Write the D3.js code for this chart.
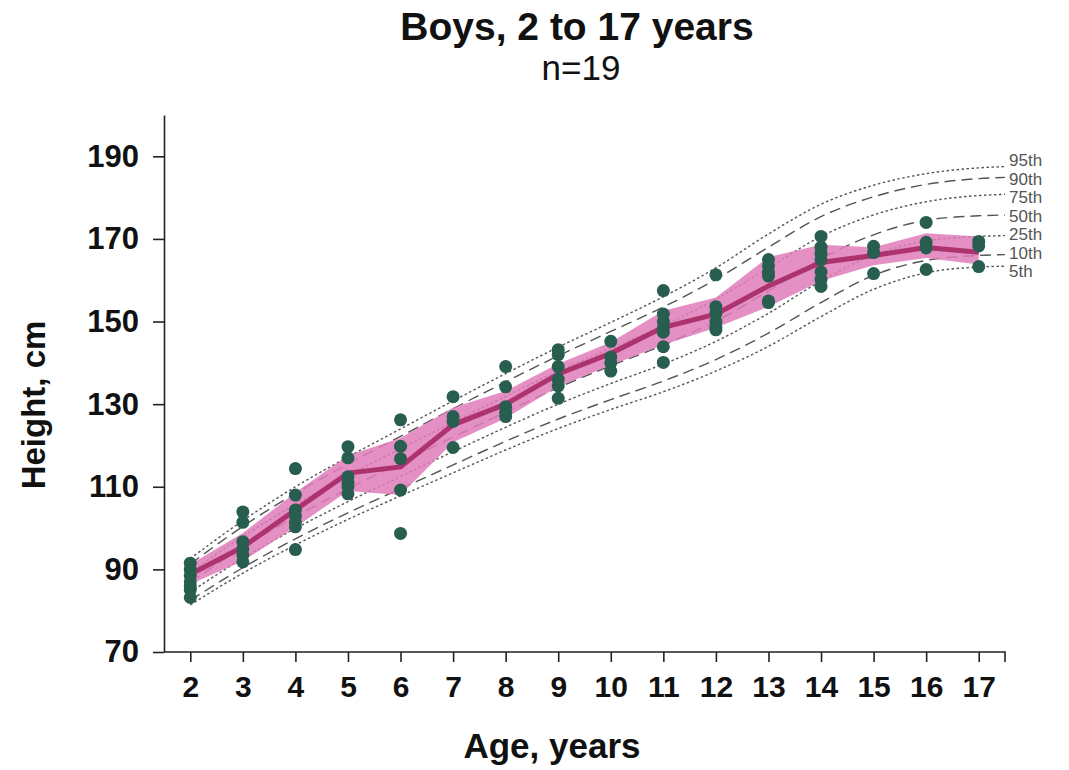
<!DOCTYPE html>
<html>
<head>
<meta charset="utf-8">
<script src="https://cdn.jsdelivr.net/npm/d3@7"></script>
<style>
  body { margin: 0; background: #fff; }
  svg text { font-family: "Liberation Sans", Arial, sans-serif; }
</style>
</head>
<body>
<svg id="chart" width="1069" height="770"></svg>
<script>
// reference curve ages (last point runs past 17 to the label column)
var refAges = [2, 3, 4, 5, 6, 7, 8, 9, 10, 11, 12, 13, 14, 15, 16, 17, 17.5]
var p95 = [92.6, 101.8, 110.0, 117.2, 124.0, 130.8, 137.4, 143.8, 149.8, 156.0, 163.0, 171.2, 178.4, 183.0, 185.8, 187.2, 187.5]
var p90 = [91.3, 100.4, 108.4, 115.5, 122.2, 128.9, 135.4, 141.7, 147.6, 153.5, 160.2, 168.0, 175.4, 180.2, 183.2, 184.6, 184.9]
var p75 = [89.3, 98.0, 105.7, 112.7, 119.2, 125.6, 131.9, 138.0, 143.5, 149.0, 155.4, 163.0, 170.6, 175.8, 179.0, 180.5, 180.8]
var p50 = [86.9, 95.3, 102.8, 109.5, 115.8, 122.0, 128.1, 134.0, 139.3, 144.3, 150.1, 157.4, 165.2, 171.0, 174.5, 175.6, 175.8]
var p25 = [84.5, 92.7, 99.9, 106.4, 112.5, 118.5, 124.4, 130.0, 135.0, 139.7, 145.2, 152.0, 159.8, 166.1, 169.5, 170.6, 170.8]
var p10 = [82.5, 90.4, 97.4, 103.7, 109.5, 115.3, 121.0, 126.4, 131.1, 135.6, 140.8, 147.2, 154.6, 161.2, 164.8, 166.0, 166.2]
var p5  = [81.4, 89.1, 95.9, 102.1, 107.8, 113.4, 118.9, 124.1, 128.7, 133.0, 138.0, 144.0, 151.2, 157.8, 161.8, 163.2, 163.4]

var pctNames = ["95th", "90th", "75th", "50th", "25th", "10th", "5th"]
var pctStyle = ["dot", "dash", "dot", "dash", "dot", "dash", "dot"]

// measured children, by age
var ages = [2, 3, 4, 5, 6, 7, 8, 9, 10, 11, 12, 13, 14, 15, 16, 17]
var heights = [
  [91.5, 90, 88.5, 87, 86, 85, 83.2],
  [103.9, 101.4, 96.7, 95, 93.5, 91.8],
  [114.4, 108, 104.4, 103, 101.5, 100.3, 94.8],
  [119.7, 117, 112.4, 111, 110, 108.3],
  [126.2, 119.8, 116.8, 109.2, 98.7],
  [131.8, 127, 125.8, 119.5],
  [139.1, 134.2, 129.4, 128, 127],
  [143.2, 142, 139.1, 136, 134.4, 131.4],
  [145.2, 141.4, 140, 138],
  [157.5, 151.8, 150, 148.5, 147.4, 143.9, 140.1],
  [161.3, 153.6, 152, 150, 148.6, 148],
  [165, 163.5, 162, 161, 155, 154.6],
  [170.6, 168, 166.5, 165, 162, 160.2, 158.5],
  [168.2, 166.7, 161.6],
  [174, 169.2, 167.8, 162.6],
  [169.4, 168.3, 163.3]
]

// group mean and its band
var meanH  = [88.8, 95.4, 104.4, 113.3, 114.8, 125.0, 130.0, 137.3, 142.3, 148.6, 151.8, 158.6, 164.3, 166.0, 167.9, 166.8]
var upperH = [91.2, 98.8, 108.6, 117.6, 121.8, 129.2, 133.2, 139.8, 145.0, 152.6, 155.8, 165.6, 168.6, 168.0, 171.4, 170.6]
var lowerH = [86.4, 92.0, 100.2, 109.0, 108.0, 120.8, 126.6, 134.3, 139.4, 144.4, 148.5, 153.6, 159.8, 163.6, 165.4, 163.8]

var yTicks = [70, 90, 110, 130, 150, 170, 190]

var svg = d3.select("#chart")
var mLeft = 164, mRight = 1005, mTop = 115, mBottom = 652

var x = d3.scaleLinear().domain([1.5, 17.5]).range([mLeft, mRight])
var y = d3.scaleLinear().domain([70, 200]).range([mBottom, mTop])

// title
svg.append("text").attr("x", 577).attr("y", 40).attr("text-anchor", "middle")
  .attr("font-size", 39).attr("font-weight", "bold").attr("fill", "#111")
  .text("Boys, 2 to 17 years")
svg.append("text").attr("x", 581).attr("y", 80).attr("text-anchor", "middle")
  .attr("font-size", 35).attr("fill", "#111")
  .text("n=19")

// percentile reference curves
var curves = [p95, p90, p75, p50, p25, p10, p5]
var curveLine = d3.line()
  .x(function(d, i) { return x(refAges[i]) })
  .y(function(d) { return y(d) })
  .curve(d3.curveMonotoneX)

var gRef = svg.append("g")
curves.forEach(function(c, k) {
  gRef.append("path")
    .attr("d", curveLine(c))
    .attr("fill", "none")
    .attr("stroke", "#555")
    .attr("stroke-width", 1.4)
    .attr("stroke-dasharray", pctStyle[k] == "dot" ? "2.5,2.5" : "11,6")
})

// labels at the right, spread evenly around the curve ends
var ends = curves.map(function(c) { return y(c[c.length - 1]) })
var midEnd = d3.mean(ends)
var gap = 18.5
curves.forEach(function(c, k) {
  svg.append("text")
    .attr("x", mRight + 4)
    .attr("y", midEnd + (k - 3) * gap)
    .attr("dy", "0.35em")
    .attr("font-size", 17)
    .attr("fill", "#555")
    .text(pctNames[k])
})

// band and mean line
var band = d3.area()
  .x(function(d, i) { return x(ages[i]) })
  .y0(function(d, i) { return y(lowerH[i]) })
  .y1(function(d, i) { return y(upperH[i]) })
svg.append("path").attr("d", band(ages))
  .attr("fill", "#df7dba").attr("fill-opacity", 0.85)

var meanLine = d3.line()
  .x(function(d, i) { return x(ages[i]) })
  .y(function(d) { return y(d) })
svg.append("path").attr("d", meanLine(meanH))
  .attr("fill", "none").attr("stroke", "#a3235f")
  .attr("stroke-width", 5).attr("stroke-opacity", 0.85)

// children
var pts = []
ages.forEach(function(a, i) {
  heights[i].forEach(function(h) { pts.push({ age: a, h: h }) })
})
svg.append("g").selectAll("circle").data(pts).enter().append("circle")
  .attr("cx", function(d) { return x(d.age) })
  .attr("cy", function(d) { return y(d.h) })
  .attr("r", 6.5)
  .attr("fill", "#275e4f")

// axes
var yAxis = d3.axisLeft(y).tickValues(yTicks).tickSize(11).tickSizeOuter(0).tickPadding(14)
var gy = svg.append("g").attr("transform", "translate(" + mLeft + ",0)").call(yAxis)
gy.selectAll("text").attr("font-size", 31).attr("font-weight", "bold").attr("fill", "#111")
  .style("font-family", "'Liberation Sans', Arial, sans-serif")

var xAxis = d3.axisBottom(x).tickValues(ages).tickFormat(d3.format("d")).tickSize(10).tickSizeOuter(10).tickPadding(14)
var gx = svg.append("g").attr("transform", "translate(0," + mBottom + ")").call(xAxis)
gx.selectAll("text").attr("font-size", 30).attr("font-weight", "bold").attr("fill", "#111")
  .style("font-family", "'Liberation Sans', Arial, sans-serif")
// keep only the right-hand end tick of the domain
gx.select(".domain").attr("d", "M" + mLeft + ",0H" + mRight + "V10")

svg.selectAll(".domain, .tick line").attr("stroke", "#222").attr("stroke-width", 1.6)

// axis titles
svg.append("text").attr("x", 552).attr("y", 758).attr("text-anchor", "middle")
  .attr("font-size", 35).attr("font-weight", "bold").attr("fill", "#111")
  .text("Age, years")
svg.append("text").attr("transform", "translate(45," + 405 + ") rotate(-90)")
  .attr("text-anchor", "middle")
  .attr("font-size", 33).attr("font-weight", "bold").attr("fill", "#111")
  .text("Height, cm")
</script>
</body>
</html>
